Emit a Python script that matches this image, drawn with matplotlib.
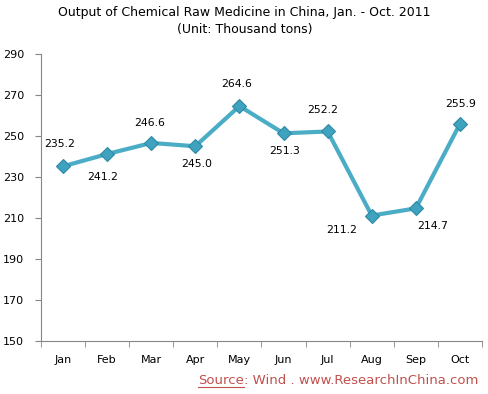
import matplotlib
matplotlib.use("Agg")
import matplotlib.pyplot as plt

months = ["Jan", "Feb", "Mar", "Apr", "May", "Jun", "Jul", "Aug", "Sep", "Oct"]
values = [235.2, 241.2, 246.6, 245.0, 264.6, 251.3, 252.2, 211.2, 214.7, 255.9]
yticks = [150, 170, 190, 210, 230, 250, 270, 290]
# label offsets in pixels (dx, dy up)
label_offsets = [(-3, 22), (-5, -23), (-2, 20), (1, -18), (-3, 22),
                 (1, -18), (-5, 21), (-30, -14), (17, -18), (1, 20)]

W, H = 489, 394
fig = plt.figure(figsize=(W / 100, H / 100), dpi=100)
ax = fig.add_axes([0.0838, 0.1345, 0.9019, 0.7285])

x = list(range(len(months)))
ax.plot(x, values, color="#4BACC6", lw=3, marker="D", markersize=7,
        markerfacecolor="#3FA3BF", markeredgecolor="#2E8AA6", markeredgewidth=0.8,
        solid_joinstyle="round", zorder=3)

for xi, v, (dx, dy) in zip(x, values, label_offsets):
    ax.annotate(f"{v:.1f}", (xi, v), xytext=(dx, dy), textcoords="offset pixels",
                ha="center", va="center", fontsize=7.8, color="#000000")

ax.set_xlim(-0.5, len(months) - 0.5)
ax.set_ylim(150, 290)
ax.set_yticks(yticks)
ax.set_xticks(x)
ax.set_xticklabels(months)
ax.set_xticks([i - 0.5 for i in range(len(months) + 1)], minor=True)
ax.tick_params(axis="x", which="major", length=0, pad=10, labelsize=8)
ax.tick_params(axis="x", which="minor", length=4, color="#868686", direction="out")
ax.tick_params(axis="y", length=4, color="#868686", labelsize=8, pad=8)
for s in ["top", "right"]:
    ax.spines[s].set_visible(False)
for s in ["left", "bottom"]:
    ax.spines[s].set_color("#868686")

fig.text(0.5, 0.968, "Output of Chemical Raw Medicine in China, Jan. - Oct. 2011",
         ha="center", va="center", fontsize=9)
fig.text(0.5, 0.925, "(Unit: Thousand tons)", ha="center", va="center", fontsize=9)

src_color = "#C0504D"
rest = fig.text(478 / W, 0.033, ": Wind . www.ResearchInChina.com", ha="right", va="center",
                fontsize=9.5, color=src_color)
fig.canvas.draw()
rb = rest.get_window_extent()
t1 = fig.text(rb.x0 / W, 0.033, "Source", ha="right", va="center", fontsize=9.5, color=src_color)
fig.canvas.draw()
bb = t1.get_window_extent()
fig.add_artist(plt.Line2D([bb.x0 / W, bb.x1 / W], [(bb.y0 + 0.5) / H] * 2,
                          color=src_color, lw=0.8))

fig.savefig("out.png", dpi=100)
